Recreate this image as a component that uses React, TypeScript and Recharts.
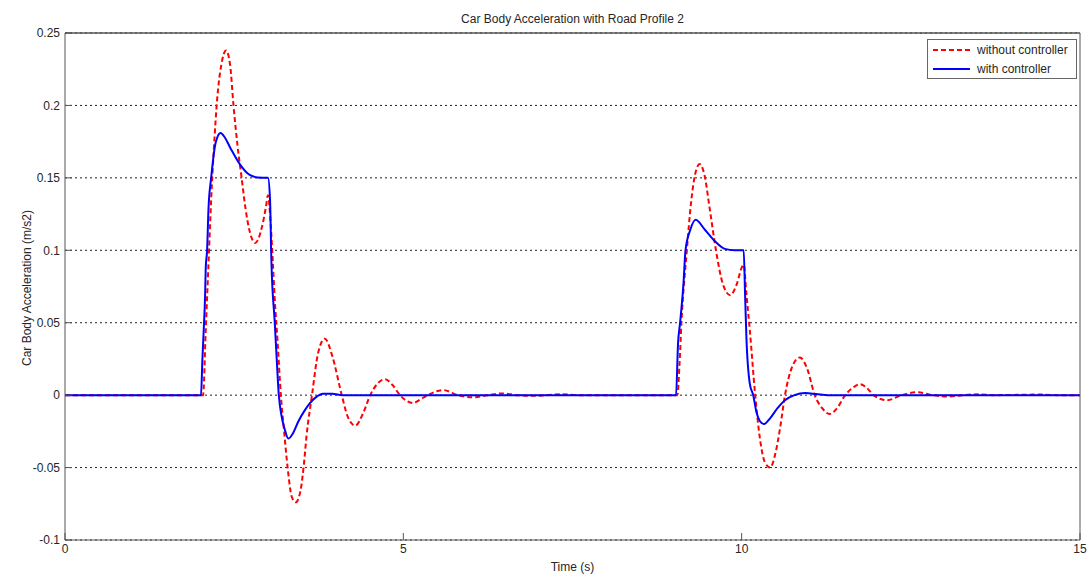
import { LineChart, Line, XAxis, YAxis, CartesianGrid, Legend } from 'recharts'

const TITLE = 'Car Body Acceleration with Road Profile 2'
const X_LABEL = 'Time (s)'
const Y_LABEL = 'Car Body Acceleration (m/s2)'

const X_TICKS = [0, 5, 10, 15]
const Y_TICKS = [-0.1, -0.05, 0, 0.05, 0.1, 0.15, 0.2, 0.25]

// without controller (red dashed)
const redTime = [
  0, 2.0, 2.04, 2.08, 2.12, 2.16, 2.2, 2.25, 2.31, 2.38, 2.44, 2.49, 2.55, 2.61, 2.67, 2.73, 2.81, 2.91,
  2.97, 3.0, 3.04, 3.07, 3.1, 3.14, 3.19, 3.24, 3.29, 3.35, 3.41, 3.48, 3.53, 3.57, 3.65, 3.74, 3.84,
  3.95, 4.09, 4.18, 4.29, 4.41, 4.51, 4.62, 4.73, 4.84, 4.95, 5.05, 5.14, 5.25, 5.36, 5.59, 5.81, 6.03,
  6.25, 6.46, 6.68, 6.9, 7.12, 7.35, 7.58, 9.05, 9.08, 9.11, 9.19, 9.25, 9.31, 9.38, 9.45, 9.53, 9.62,
  9.72, 9.83, 9.93, 10.0, 10.03, 10.07, 10.12, 10.2, 10.27, 10.34, 10.42, 10.5, 10.57, 10.64, 10.75,
  10.86, 10.97, 11.08, 11.19, 11.3, 11.41, 11.53, 11.64, 11.75, 11.85, 11.95, 12.15, 12.37, 12.6, 12.82,
  13.05, 13.27, 13.5, 13.72, 14.4, 14.7, 15,
]
const redAcc = [
  0, 0, 0, 0.045, 0.09, 0.135, 0.17, 0.205, 0.228, 0.238, 0.228, 0.2, 0.172, 0.15, 0.128, 0.113, 0.105, 0.116,
  0.13, 0.138, 0.118, 0.093, 0.066, 0.038, 0, -0.026, -0.05, -0.07, -0.074, -0.066, -0.048, -0.028, 0, 0.029, 0.039,
  0.027, 0, -0.015, -0.021, -0.012, 0, 0.008, 0.011, 0.007, 0, -0.004, -0.0055, -0.003, 0, 0.0035, 0, -0.0015,
  0, 0.0012, 0, -0.0005, 0, 0.0006, 0, 0, 0.02, 0.05, 0.1, 0.132, 0.152, 0.1595, 0.152, 0.128, 0.1,
  0.077, 0.069, 0.077, 0.088, 0.09, 0.07, 0.045, 0, -0.03, -0.046, -0.05, -0.04, -0.022, 0, 0.02,
  0.026, 0.018, 0, -0.009, -0.013, -0.009, 0, 0.005, 0.0076, 0.005, 0, -0.0035, 0, 0.002, 0,
  -0.001, 0, 0.0006, 0, 0.0004, 0, 0,
]

// with controller (blue solid)
const blueTime = [
  0, 2.01, 2.03, 2.05, 2.07, 2.08, 2.1, 2.12, 2.16, 2.23, 2.3, 2.36, 2.44, 2.59, 2.73, 2.85, 3.0, 3.03,
  3.05, 3.1, 3.13, 3.16, 3.25, 3.3, 3.36, 3.45, 3.55, 3.62, 3.72, 3.81, 3.95, 4.1, 9.03, 9.06, 9.09,
  9.14, 9.17, 9.24, 9.32, 9.46, 9.61, 9.75, 9.9, 10.03, 10.05, 10.07, 10.12, 10.17, 10.22, 10.27, 10.33,
  10.42, 10.53, 10.64, 10.78, 10.94, 11.1, 11.28, 15,
]
const blueAcc = [
  0, 0, 0.024, 0.045, 0.068, 0.088, 0.1, 0.128, 0.15, 0.175, 0.181, 0.178, 0.171, 0.159, 0.152, 0.1503, 0.15, 0.135,
  0.093, 0.05, 0.024, 0, -0.024, -0.03, -0.027, -0.018, -0.01, -0.0055, -0.001, 0.001, 0.001, 0, 0, 0.036, 0.05,
  0.077, 0.1, 0.114, 0.121, 0.114, 0.106, 0.101, 0.1, 0.1, 0.07, 0.04, 0.008, 0, -0.012, -0.018, -0.02,
  -0.016, -0.009, -0.0035, 0, 0.0014, 0.0008, 0, 0,
]

const withoutData = redTime.map((t, i) => ({ t, acc: redAcc[i] }))
const withData = blueTime.map((t, i) => ({ t, acc: blueAcc[i] }))

const FONT = '"Liberation Sans", Arial, sans-serif'
const AXIS_COLOR = '#555'
const TEXT_COLOR = '#262626'

function LegendBox() {
  const rows = [
    { name: 'without controller', color: '#ff0000', dash: '5 3' },
    { name: 'with controller', color: '#0000ff', dash: undefined },
  ]
  return (
    <div
      style={{
        width: 150, height: 40, boxSizing: 'border-box', border: '1px solid #666', background: '#fff',
        fontFamily: FONT, fontSize: 12, color: TEXT_COLOR, position: 'relative',
      }}
    >
      {rows.map((r, i) => (
        <div key={r.name} style={{ position: 'absolute', left: 5, top: 2 + i * 19, height: 16, display: 'flex', alignItems: 'center' }}>
          <svg width={38} height={16}>
            <line x1={0} y1={8} x2={37} y2={8} stroke={r.color} strokeWidth={2} strokeDasharray={r.dash} />
          </svg>
          <span style={{ marginLeft: 6, lineHeight: '16px' }}>{r.name}</span>
        </div>
      ))}
    </div>
  )
}

export default function App() {
  return (
    <div style={{ position: 'absolute', left: 0, top: 0, width: 1091, height: 574, background: '#fff' }}>
      <LineChart width={1091} height={574} margin={{ top: 32, right: 10, left: 0, bottom: 0 }} style={{ fontFamily: FONT }}>
        <CartesianGrid vertical={false} stroke="#222" strokeDasharray="2 3" strokeWidth={1} />
        <XAxis
          dataKey="t" type="number" domain={[0, 15]} ticks={X_TICKS} allowDataOverflow
          height={34} tickSize={-7} tickMargin={11}
          axisLine={{ stroke: AXIS_COLOR }} tickLine={{ stroke: AXIS_COLOR }}
          tick={{ fontSize: 12, fill: TEXT_COLOR }}
          label={{ value: X_LABEL, position: 'insideBottom', offset: 3, fontSize: 12, fill: TEXT_COLOR }}
        />
        <XAxis
          xAxisId="top" orientation="top" dataKey="t" type="number" domain={[0, 15]} ticks={X_TICKS}
          height={1} tickSize={-7} tick={false}
          axisLine={{ stroke: AXIS_COLOR, strokeWidth: 1.5 }} tickLine={{ stroke: AXIS_COLOR }}
          label={{ value: TITLE, position: 'top', offset: 9, fontSize: 12, fill: TEXT_COLOR }}
        />
        <YAxis
          type="number" domain={[-0.1, 0.25]} ticks={Y_TICKS} allowDataOverflow
          width={65} tickSize={-7} tickMargin={12}
          axisLine={{ stroke: AXIS_COLOR }} tickLine={{ stroke: AXIS_COLOR }}
          tick={{ fontSize: 12, fill: TEXT_COLOR }}
          label={{
            content: () => (
              <text x={31} y={288} transform="rotate(-90 31 288)" textAnchor="middle" fontSize={12} fill={TEXT_COLOR}>
                {Y_LABEL}
              </text>
            ),
          }}
        />
        <YAxis
          yAxisId="right" orientation="right" type="number" domain={[-0.1, 0.25]} ticks={Y_TICKS}
          width={1} tickSize={-7} tick={false}
          axisLine={{ stroke: AXIS_COLOR }} tickLine={{ stroke: AXIS_COLOR }}
        />
        <Legend
          layout="vertical" align="center" verticalAlign="middle"
          wrapperStyle={{ position: 'absolute', left: 927, top: 39, width: 150, height: 40 }}
          content={() => <LegendBox />}
        />
        <Line
          data={withoutData} dataKey="acc" name="without controller" type="monotone"
          stroke="#ff0000" strokeWidth={2} strokeDasharray="5 3" dot={false} isAnimationActive={false}
        />
        <Line
          data={withData} dataKey="acc" name="with controller" type="monotone"
          stroke="#0000ff" strokeWidth={2} dot={false} isAnimationActive={false}
        />
      </LineChart>
    </div>
  )
}
